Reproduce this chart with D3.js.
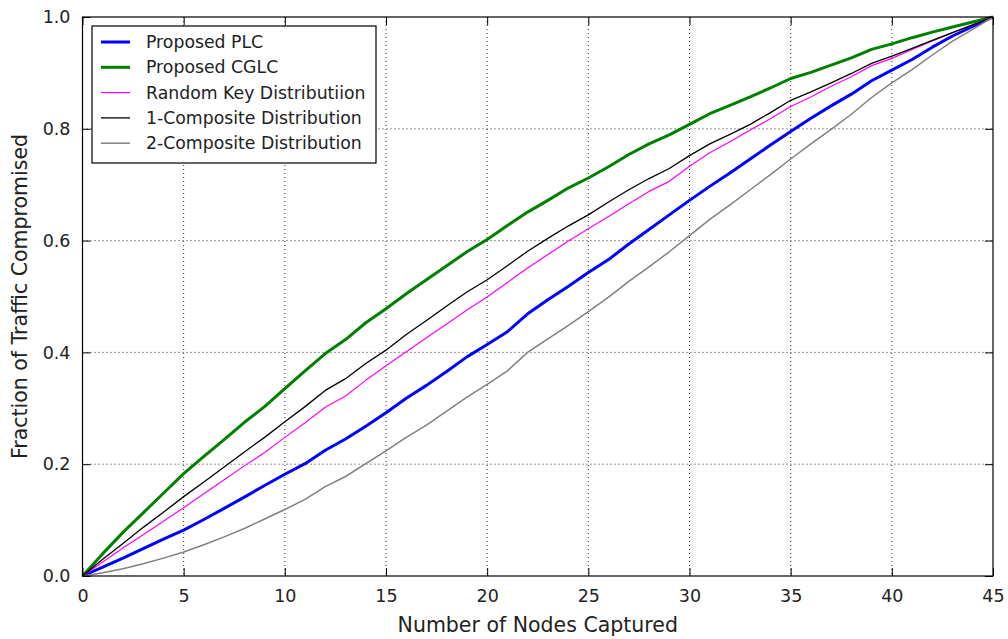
<!DOCTYPE html>
<html>
<head>
<meta charset="utf-8">
<script src="https://cdn.jsdelivr.net/npm/d3@7/dist/d3.min.js"></script>
<style>
  html, body { margin: 0; padding: 0; background: #fff; }
  svg { display: block; font-family: "DejaVu Sans", sans-serif; }
</style>
</head>
<body>
<svg id="chart" width="1008" height="639"></svg>
<script>
// Number of captured nodes (0..45)
const nodes = d3.range(0, 46);

// Fraction of traffic compromised for each scheme
const plc = [0, 0.016, 0.032, 0.049, 0.066, 0.082, 0.101, 0.121, 0.141, 0.162, 0.182, 0.201, 0.225, 0.245, 0.268, 0.292, 0.318, 0.341, 0.366, 0.392, 0.414, 0.437, 0.469, 0.494, 0.518, 0.543, 0.566, 0.594, 0.620, 0.646, 0.672, 0.697, 0.721, 0.746, 0.771, 0.795, 0.819, 0.841, 0.862, 0.886, 0.905, 0.924, 0.946, 0.966, 0.983, 1.0];
const cglc = [0, 0.040, 0.078, 0.113, 0.148, 0.183, 0.214, 0.244, 0.275, 0.303, 0.335, 0.367, 0.398, 0.423, 0.453, 0.478, 0.505, 0.530, 0.555, 0.580, 0.602, 0.627, 0.651, 0.672, 0.694, 0.712, 0.732, 0.754, 0.773, 0.789, 0.808, 0.827, 0.842, 0.857, 0.873, 0.890, 0.901, 0.914, 0.927, 0.942, 0.952, 0.963, 0.973, 0.982, 0.991, 1.0];
const randomKey = [0, 0.025, 0.050, 0.074, 0.098, 0.122, 0.147, 0.172, 0.197, 0.221, 0.248, 0.274, 0.302, 0.322, 0.350, 0.376, 0.401, 0.426, 0.451, 0.476, 0.499, 0.525, 0.551, 0.575, 0.599, 0.621, 0.643, 0.666, 0.688, 0.706, 0.733, 0.757, 0.777, 0.798, 0.818, 0.840, 0.857, 0.876, 0.893, 0.913, 0.926, 0.942, 0.957, 0.972, 0.986, 1.0];
const composite1 = [0, 0.030, 0.058, 0.087, 0.114, 0.142, 0.168, 0.195, 0.222, 0.248, 0.276, 0.303, 0.332, 0.353, 0.380, 0.404, 0.432, 0.457, 0.483, 0.508, 0.530, 0.555, 0.581, 0.604, 0.626, 0.646, 0.669, 0.691, 0.711, 0.729, 0.752, 0.773, 0.790, 0.808, 0.829, 0.851, 0.866, 0.882, 0.899, 0.917, 0.930, 0.944, 0.958, 0.972, 0.986, 1.0];
const composite2 = [0, 0.006, 0.013, 0.022, 0.032, 0.043, 0.056, 0.070, 0.085, 0.102, 0.119, 0.137, 0.160, 0.178, 0.201, 0.224, 0.248, 0.270, 0.295, 0.320, 0.343, 0.367, 0.400, 0.424, 0.448, 0.473, 0.499, 0.527, 0.553, 0.580, 0.609, 0.638, 0.664, 0.691, 0.718, 0.746, 0.773, 0.799, 0.826, 0.856, 0.882, 0.906, 0.932, 0.957, 0.978, 1.0];

const seriesNames = ["Proposed PLC", "Proposed CGLC", "Random Key Distributiion", "1-Composite Distribution", "2-Composite Distribution"];
const seriesValues = [plc, cglc, randomKey, composite1, composite2];
const seriesColors = ["#0000ff", "#008000", "#ff00ff", "#000000", "#808080"];
const seriesWidths = [3, 3, 1.2, 1.3, 1.5];

const xTicks = [0, 5, 10, 15, 20, 25, 30, 35, 40, 45];
const yTicks = [0.0, 0.2, 0.4, 0.6, 0.8, 1.0];

const svg = d3.select("#chart");
const margin = { left: 82.5, top: 17, right: 15, bottom: 63 };
const W = 1008, H = 639;
const iw = W - margin.left - margin.right;
const ih = H - margin.top - margin.bottom;

const x = d3.scaleLinear().domain([0, 45]).range([0, iw]);
const y = d3.scaleLinear().domain([0, 1]).range([ih, 0]);

const g = svg.append("g").attr("transform", `translate(${margin.left},${margin.top})`);

// dotted grid
g.append("g").selectAll("line").data(xTicks.slice(1, -1)).join("line")
  .attr("x1", d => x(d)).attr("x2", d => x(d)).attr("y1", 0).attr("y2", ih)
  .attr("stroke", "#000").attr("stroke-width", 1).attr("stroke-dasharray", "1,3").attr("opacity", 0.8);
g.append("g").selectAll("line").data(yTicks.slice(1, -1)).join("line")
  .attr("y1", d => y(d)).attr("y2", d => y(d)).attr("x1", 0).attr("x2", iw)
  .attr("stroke", "#000").attr("stroke-width", 1).attr("stroke-dasharray", "1,3").attr("opacity", 0.8);

// series lines
const line = d3.line().x((d, i) => x(nodes[i])).y(d => y(d));
seriesValues.forEach((vals, k) => {
  g.append("path").datum(vals)
    .attr("fill", "none")
    .attr("stroke", seriesColors[k])
    .attr("stroke-width", seriesWidths[k])
    .attr("stroke-linejoin", "round")
    .attr("d", line);
});

// axes with inward ticks on all sides
const tickFont = "17.5px";
const styleAxis = sel => {
  sel.select(".domain").remove();
  sel.selectAll(".tick line").attr("stroke", "#000");
  sel.selectAll(".tick text").attr("font-size", tickFont).attr("fill", "#222").attr("font-family", "DejaVu Sans, sans-serif");
};
g.append("g").attr("transform", `translate(0,${ih})`)
  .call(d3.axisBottom(x).tickValues(xTicks).tickFormat(d3.format("d")).tickSizeInner(-8).tickPadding(14))
  .call(styleAxis);
g.append("g")
  .call(d3.axisTop(x).tickValues(xTicks).tickFormat("").tickSizeInner(-8))
  .call(styleAxis);
g.append("g")
  .call(d3.axisLeft(y).tickValues(yTicks).tickFormat(d3.format(".1f")).tickSizeInner(-8).tickPadding(12))
  .call(styleAxis);
g.append("g").attr("transform", `translate(${iw},0)`)
  .call(d3.axisRight(y).tickValues(yTicks).tickFormat("").tickSizeInner(-8))
  .call(styleAxis);

// frame
g.append("rect").attr("x", 0).attr("y", 0).attr("width", iw).attr("height", ih)
  .attr("fill", "none").attr("stroke", "#000").attr("stroke-width", 1.2);

// axis titles
svg.append("text").attr("x", margin.left + iw / 2).attr("y", 632)
  .attr("text-anchor", "middle").attr("font-size", "20.5px").attr("fill", "#222")
  .text("Number of Nodes Captured");
svg.append("text").attr("transform", `translate(27,${margin.top + ih / 2}) rotate(-90)`)
  .attr("text-anchor", "middle").attr("font-size", "20.5px").attr("fill", "#222")
  .text("Fraction of Traffic Compromised");

// legend
const lg = svg.append("g").attr("transform", "translate(92,26)");
lg.append("rect").attr("x", 0).attr("y", 0).attr("width", 284).attr("height", 137)
  .attr("fill", "#fff").attr("stroke", "#000").attr("stroke-width", 1.2);
seriesNames.forEach((name, k) => {
  const cy = 16 + k * 25.3;
  lg.append("line").attr("x1", 9).attr("x2", 38).attr("y1", cy).attr("y2", cy)
    .attr("stroke", seriesColors[k]).attr("stroke-width", seriesWidths[k]);
  lg.append("text").attr("x", 54).attr("y", cy).attr("dy", "0.35em")
    .attr("font-size", "17.3px").attr("fill", "#222").text(name);
});
</script>
</body>
</html>
